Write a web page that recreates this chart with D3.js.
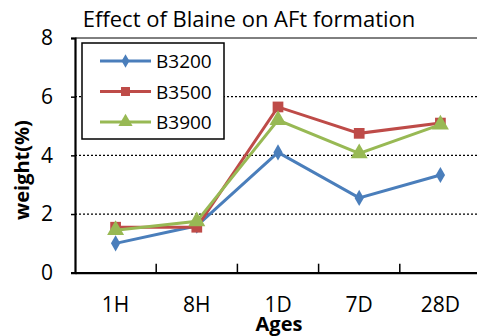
<!DOCTYPE html>
<html>
<head>
<meta charset="utf-8">
<script src="https://cdn.jsdelivr.net/npm/d3@7"></script>
<style>
  body { margin: 0; background: #fff; }
  text { font-family: "Open Sans", "DejaVu Sans", sans-serif; }
</style>
</head>
<body>
<svg id="chart" width="477" height="336"></svg>
<script>
    // chart data
    var ages = ["1H", "8H", "1D", "7D", "28D"];
    var seriesNames = ["B3200", "B3500", "B3900"];
    var b3200 = [1.0, 1.6, 4.1, 2.55, 3.33];
    var b3500 = [1.55, 1.55, 5.65, 4.75, 5.1];
    var b3900 = [1.45, 1.75, 5.2, 4.07, 5.05];
    var yTicks = [0, 2, 4, 6, 8];

function drawChart() {
    'use strict';

    var colors = ["#4A7EBB", "#BE4B48", "#98B954"],
        shapes = [d3.symbolDiamond, d3.symbolSquare, d3.symbolTriangle],
        shapeSizes = [75, 115, 125];

    var svg = d3.select("#chart"),
        plotLeft = 75, plotRight = 481, plotTop = 38, plotBottom = 272.7;

    var x = d3.scaleBand().domain(ages).range([plotLeft, plotRight]);
    var y = d3.scaleLinear().domain([0, 8]).range([plotBottom, plotTop]);

    // title
    svg.append("text")
        .attr("x", 249).attr("y", 27)
        .attr("text-anchor", "middle")
        .style("font-size", "22px")
        .text("Effect of Blaine on AFt formation");

    // dotted grid
    svg.append("g").selectAll("line")
        .data(yTicks.filter(function (d) { return d > 0 && d < 8; }))
        .enter().append("line")
        .attr("x1", plotLeft).attr("x2", plotRight)
        .attr("y1", function (d) { return y(d); })
        .attr("y2", function (d) { return y(d); })
        .attr("stroke", "#000").attr("stroke-width", 1.2)
        .attr("stroke-dasharray", "2,2");

    // top frame
    svg.append("line")
        .attr("x1", plotLeft).attr("x2", plotRight)
        .attr("y1", y(8)).attr("y2", y(8))
        .attr("stroke", "#000").attr("stroke-width", 1);

    // y axis
    var yAxis = svg.append("g")
        .attr("transform", "translate(" + plotLeft + ",0)")
        .call(d3.axisLeft(y).tickValues(yTicks).tickSize(4).tickPadding(18));
    yAxis.select(".domain").attr("stroke-width", 2.2);
    yAxis.selectAll(".tick line").attr("stroke-width", 1.5);
    yAxis.selectAll("text").style("font-size", "21px").attr("fill", "#000");

    // x axis: ticks sit on category boundaries, pointing up
    var xAxis = svg.append("g")
        .attr("transform", "translate(0," + plotBottom + ")")
        .call(d3.axisBottom(x).tickSize(0).tickPadding(24));
    xAxis.select(".domain").attr("stroke-width", 2.2);
    xAxis.selectAll("text").style("font-size", "21px").attr("fill", "#000");
    svg.append("g").selectAll("line")
        .data(ages.slice(1))
        .enter().append("line")
        .attr("x1", function (d) { return x(d); })
        .attr("x2", function (d) { return x(d); })
        .attr("y1", plotBottom).attr("y2", plotBottom - 9)
        .attr("stroke", "#000").attr("stroke-width", 1.5);

    // axis titles
    svg.append("text")
        .attr("transform", "translate(29,170) rotate(-90)")
        .attr("text-anchor", "middle")
        .style("font-size", "20px").style("font-weight", "bold")
        .text("weight(%)");
    svg.append("text")
        .attr("x", 279).attr("y", 331)
        .attr("text-anchor", "middle")
        .style("font-size", "20px").style("font-weight", "bold")
        .text("Ages");

    // series
    var allSeries = [b3200, b3500, b3900];
    var line = d3.line()
        .x(function (d, i) { return x(ages[i]) + x.bandwidth() / 2; })
        .y(function (d) { return y(d); });

    allSeries.forEach(function (vals, s) {
        var g = svg.append("g");
        g.append("path")
            .attr("d", line(vals))
            .attr("fill", "none")
            .attr("stroke", colors[s])
            .attr("stroke-width", 3);
        g.selectAll("path.pt")
            .data(vals)
            .enter().append("path")
            .attr("class", "pt")
            .attr("d", d3.symbol().type(shapes[s]).size(shapeSizes[s]))
            .attr("transform", function (d, i) {
                return "translate(" + (x(ages[i]) + x.bandwidth() / 2) + "," + y(d) + ")";
            })
            .attr("fill", colors[s]);
    });

    // legend
    var legend = svg.append("g");
    legend.append("rect")
        .attr("x", 82).attr("y", 43)
        .attr("width", 142).attr("height", 96)
        .attr("fill", "#fff").attr("stroke", "#000").attr("stroke-width", 1.5);
    seriesNames.forEach(function (name, s) {
        var ly = 61 + s * 30.5;
        legend.append("line")
            .attr("x1", 100).attr("x2", 151)
            .attr("y1", ly).attr("y2", ly)
            .attr("stroke", colors[s]).attr("stroke-width", 3);
        legend.append("path")
            .attr("d", d3.symbol().type(shapes[s]).size(shapeSizes[s] * 0.7))
            .attr("transform", "translate(125.5," + ly + ")")
            .attr("fill", colors[s]);
        legend.append("text")
            .attr("x", 156).attr("y", ly + 7)
            .style("font-size", "19px")
            .text(name);
    });
}

drawChart();
</script>
</body>
</html>
